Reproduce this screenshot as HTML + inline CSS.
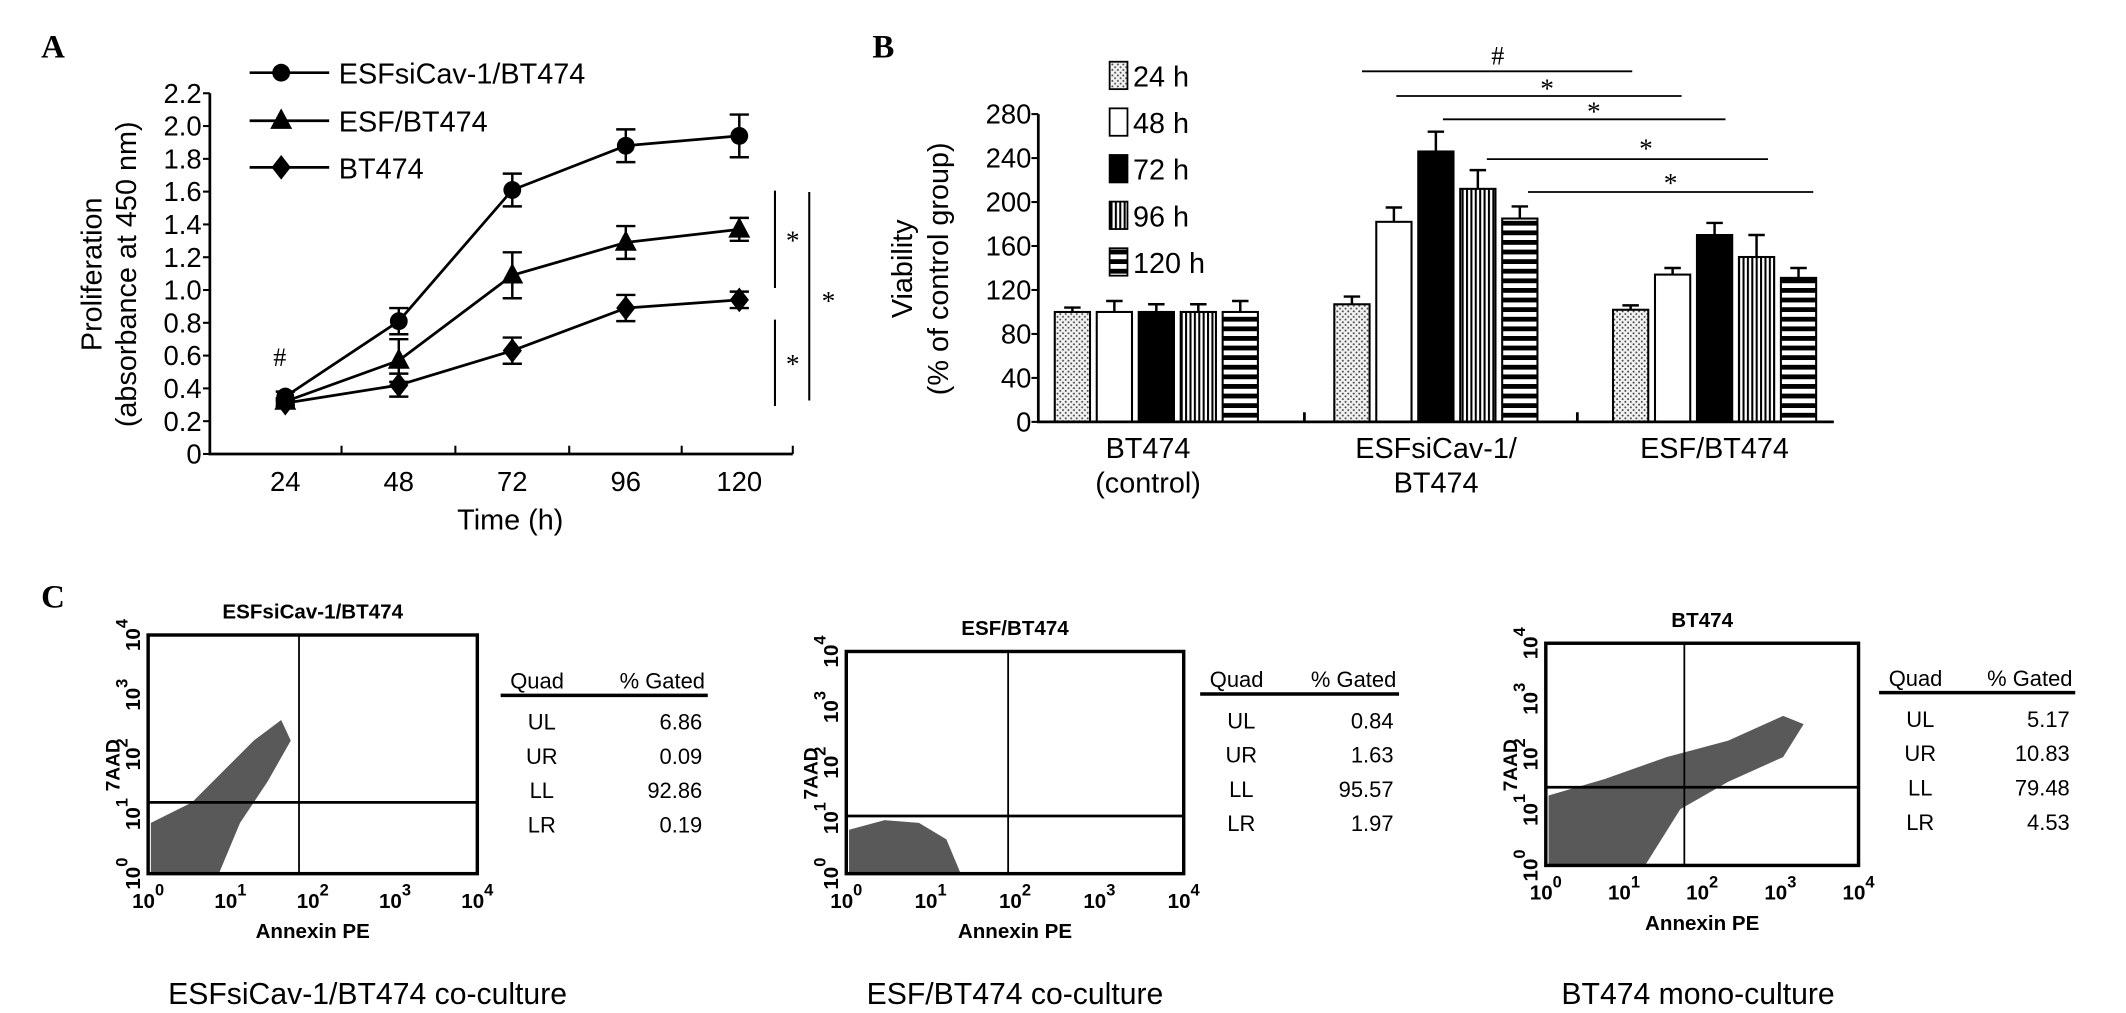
<!DOCTYPE html>
<html><head><meta charset="utf-8"><style>
html,body{margin:0;padding:0;background:#fff;}
svg{display:block;}
text{font-family:"Liberation Sans",sans-serif;fill:#000;}
.serif{font-family:"Liberation Serif",serif;}
</style></head><body>
<svg id="fig" width="2126" height="1013" viewBox="0 0 1550 738.6" preserveAspectRatio="none" xmlns="http://www.w3.org/2000/svg">
<g id="panelA"></g>
<g id="panelB"></g>
<g id="panelC"></g>
</svg>
<script>
// ---------- Panel A data ----------
const timesA = [24, 48, 72, 96, 120];
const yTicksA = [0, 0.2, 0.4, 0.6, 0.8, 1.0, 1.2, 1.4, 1.6, 1.8, 2.0, 2.2];
const yTickLabelsA = ["0","0.2","0.4","0.6","0.8","1.0","1.2","1.4","1.6","1.8","2.0","2.2"];
const seriesNamesA = ["ESFsiCav-1/BT474", "ESF/BT474", "BT474"];
const esfsiValues = [0.35, 0.81, 1.61, 1.88, 1.94];
const esfsiErrors = [0.03, 0.08, 0.10, 0.10, 0.13];
const esfValues = [0.32, 0.57, 1.09, 1.29, 1.37];
const esfErrors = [0.02, 0.13, 0.14, 0.10, 0.07];
const bt474Values = [0.31, 0.42, 0.63, 0.89, 0.94];
const bt474Errors = [0.02, 0.07, 0.08, 0.08, 0.05];

// ---------- Panel B data ----------
const groupsB = ["BT474 (control)", "ESFsiCav-1/BT474", "ESF/BT474"];
const hoursB = ["24 h", "48 h", "72 h", "96 h", "120 h"];
const yTicksB = [0, 40, 80, 120, 160, 200, 240, 280];
const controlValues = [100, 100, 100, 100, 100];
const controlErrors = [4, 10, 7, 7, 10];
const esfsiBarValues = [107, 182, 246, 212, 185];
const esfsiBarErrors = [7, 13, 18, 17, 11];
const esfBarValues = [102, 134, 170, 150, 131];
const esfBarErrors = [4, 6, 11, 20, 9];

const NS = "http://www.w3.org/2000/svg";
function mk(tag, attrs, parent, txt){
  const e = document.createElementNS(NS, tag);
  for (const k in attrs) e.setAttribute(k, attrs[k]);
  if (txt !== undefined) e.textContent = txt;
  parent.appendChild(e);
  return e;
}

// ================= PANEL A =================
(function(){
  const g = document.getElementById('panelA');
  const x0 = 153, yBase = 331, yTop = 68;
  const ya = v => yBase - (v / 2.2) * (yBase - yTop);
  const xa = t => 208 + (t - 24) / 24 * 82.75;
  let t;
  t = mk('text', {x:30, y:42, 'font-size':24, 'font-weight':'bold', class:'serif'}, g, 'A');
  
  
  // axes
  let ax = mk('path', {d:`M${x0},${yTop} L${x0},${yBase} L578,${yBase}`, stroke:'#000', 'stroke-width':2, fill:'none'}, g);
  
  
  yTicks(); 
  function yTicks(){
    yTicksA.forEach((v,i)=>{
      mk('line',{x1:x0-5,x2:x0,y1:ya(v),y2:ya(v),stroke:'#000','stroke-width':1.5},g);
      const tl = mk('text',{x:x0-6,y:ya(v)+7,'font-size':20,'text-anchor':'end'},g,yTickLabelsA[i]);
      
      
    });
  }
  [249,332,415,497,578].forEach(x=>mk('line',{x1:x,x2:x,y1:yBase,y2:yBase-6,stroke:'#000','stroke-width':1.5},g));
  timesA.forEach(tm=>{
    const tl = mk('text',{x:xa(tm),y:yBase+27,'font-size':20,'text-anchor':'middle'},g,String(tm));
    
    
  });
  t = mk('text',{x:372,y:386,'font-size':21,'text-anchor':'middle'},g,'Time (h)');
  
  
  const yl = mk('g',{transform:'translate(74,200) rotate(-90)'},g);
  
  
  mk('text',{x:0,y:0,'font-size':21,'text-anchor':'middle'},yl,'Proliferation');
  mk('text',{x:0,y:25,'font-size':21,'text-anchor':'middle'},yl,'(absorbance at 450 nm)');

  function marker(par, type, cx, cy){
    if (type===0) return mk('circle',{cx,cy,r:6.5,fill:'#000'},par);
    if (type===1) return mk('path',{d:`M${cx},${cy-9} L${cx+8},${cy+6} L${cx-8},${cy+6}Z`,fill:'#000'},par);
    return mk('path',{d:`M${cx},${cy-9} L${cx+7},${cy} L${cx},${cy+9} L${cx-7},${cy}Z`,fill:'#000'},par);
  }
  const sets = [[esfsiValues,esfsiErrors],[esfValues,esfErrors],[bt474Values,bt474Errors]];
  const sNames = ['series-esfsicav1','series-esf','series-bt474'];
  sets.forEach((s,si)=>{
    const sg = mk('g',{},g);
    
    
    const pts = s[0].map((v,i)=>`${xa(timesA[i])},${ya(v)}`).join(' ');
    mk('polyline',{points:pts,fill:'none',stroke:'#000','stroke-width':2},sg);
    s[0].forEach((v,i)=>{
      const x = xa(timesA[i]), e = s[1][i];
      mk('path',{d:`M${x},${ya(v+e)} L${x},${ya(v-e)} M${x-7},${ya(v+e)} L${x+7},${ya(v+e)} M${x-7},${ya(v-e)} L${x+7},${ya(v-e)}`,stroke:'#000','stroke-width':1.8,fill:'none'},sg);
      const m = marker(sg, si, x, ya(v));
      
      
    });
  });
  // legend
  [53,88,122].forEach((y,i)=>{
    const lg = mk('g',{},g);
    
    
    mk('line',{x1:182,x2:240,y1:y,y2:y,stroke:'#000','stroke-width':2},lg);
    marker(lg,i,205,y);
    mk('text',{x:247,y:y+8,'font-size':21},lg,seriesNamesA[i]);
  });
  // significance
  const sig = mk('g',{},g);
  
  
  mk('path',{d:'M565,139 L565,210 M565,233 L565,296 M590,140 L590,292',stroke:'#000','stroke-width':1.5},sig);
  mk('text',{x:578,y:182,'font-size':20,'text-anchor':'middle',class:'serif'},sig,'*');
  mk('text',{x:578,y:272,'font-size':20,'text-anchor':'middle',class:'serif'},sig,'*');
  mk('text',{x:604,y:226,'font-size':20,'text-anchor':'middle',class:'serif'},sig,'*');
  mk('text',{x:204,y:267,'font-size':19,'text-anchor':'middle',class:'serif'},sig,'#');
})();

// ================= PANEL B =================
(function(){
  const g = document.getElementById('panelB');
  const x0 = 757, yBase = 307.6, yTop = 83.2;
  const yb = v => yBase - (v/280)*(yBase-yTop);
  const groupLeft = [769, 972.8, 1176];
  const pitch = 30.6, bw = 25.7;
  const defs = mk('defs',{},g);
  const p1 = mk('pattern',{id:'dots',width:4,height:4,patternUnits:'userSpaceOnUse'},defs);
  mk('rect',{width:4,height:4,fill:'#f2f2f2'},p1);
  mk('circle',{cx:1,cy:1,r:0.7,fill:'#444'},p1);
  mk('circle',{cx:3,cy:3,r:0.7,fill:'#444'},p1);
  const p2 = mk('pattern',{id:'vstripes',width:3.2,height:4,patternUnits:'userSpaceOnUse'},defs);
  mk('rect',{width:3.2,height:4,fill:'#fff'},p2);
  mk('rect',{width:1.5,height:4,fill:'#000'},p2);
  const p3 = mk('pattern',{id:'hstripes',width:4,height:7,patternUnits:'userSpaceOnUse'},defs);
  mk('rect',{width:4,height:7,fill:'#fff'},p3);
  mk('rect',{width:4,height:3.5,fill:'#000'},p3);
  const fills = ['url(#dots)','#fff','#000','url(#vstripes)','url(#hstripes)'];
  let t = mk('text',{x:636,y:42,'font-size':24,'font-weight':'bold',class:'serif'},g,'B');
  
  
  const vals = [[controlValues,controlErrors],[esfsiBarValues,esfsiBarErrors],[esfBarValues,esfBarErrors]];
  vals.forEach((s,gi)=>{
    const gg = mk('g',{},g);
    
    
    s[0].forEach((v,i)=>{
      const x = groupLeft[gi] + i*pitch, e = s[1][i], cx = x + bw/2;
      mk('path',{d:`M${cx},${yb(v)} L${cx},${yb(v+e)} M${cx-6},${yb(v+e)} L${cx+6},${yb(v+e)}`,stroke:'#000','stroke-width':1.8},gg);
      const r = mk('rect',{x,y:yb(v),width:bw,height:yBase-yb(v),fill:fills[i],stroke:'#000','stroke-width':1.5},gg);
      
      
    });
  });
  mk('path',{d:`M${x0},${yTop} L${x0},${yBase} L1337,${yBase} M951,${yBase} L951,${yBase-7} M1150,${yBase} L1150,${yBase-7}`,stroke:'#000','stroke-width':2,fill:'none'},g);
  yTicksB.forEach(v=>{
    mk('line',{x1:x0-5,x2:x0,y1:yb(v),y2:yb(v),stroke:'#000','stroke-width':1.5},g);
    const tl = mk('text',{x:x0-5,y:yb(v)+7,'font-size':20,'text-anchor':'end'},g,String(v));
    
    
  });
  const yl = mk('g',{transform:'translate(665,196) rotate(-90)'},g);
  
  
  mk('text',{x:0,y:0,'font-size':21,'text-anchor':'middle'},yl,'Viability');
  mk('text',{x:0,y:26,'font-size':21,'text-anchor':'middle'},yl,'(% of control group)');
  const catLines = [["BT474","(control)"],["ESFsiCav-1/","BT474"],["ESF/BT474"]];
  const catX = [837, 1047, 1250];
  catLines.forEach((ls,i)=>{
    const cg = mk('g',{},g);
    
    
    ls.forEach((s,j)=>mk('text',{x:catX[i],y:334+j*25,'font-size':21,'text-anchor':'middle'},cg,s));
  });
  [55,89,123,157,191].forEach((y,i)=>{
    const lg = mk('g',{},g);
    
    
    mk('rect',{x:809,y:y-10,width:13,height:20,fill:fills[i],stroke:'#000','stroke-width':1.3},lg);
    mk('text',{x:826,y:y+8,'font-size':21},lg,hoursB[i]);
  });
  const sig = mk('g',{},g);
  
  
  [[993,1190,52],[1018,1226,70],[1052,1258,87],[1084,1289,116],[1114,1322,140]].forEach(l=>
    mk('line',{x1:l[0],x2:l[1],y1:l[2],y2:l[2],stroke:'#000','stroke-width':1.3},sig));
  mk('text',{x:1092,y:47,'font-size':19,'text-anchor':'middle',class:'serif'},sig,'#');
  [[1128,71],[1162,88],[1200,115],[1218,140]].forEach(p=>mk('text',{x:p[0],y:p[1],'font-size':20,'text-anchor':'middle',class:'serif'},sig,'*'));
})();

// ================= PANEL C =================
(function(){
  const g = document.getElementById('panelC');
  let t = mk('text',{x:30,y:443,'font-size':24,'font-weight':'bold',class:'serif'},g,'C');
  
  
  const plots = [
    {title:'ESFsiCav-1/BT474', box:[108,463,348,637], qx:218, qy:585, tab:[365,516,495], rows:[['UL','6.86'],['UR','0.09'],['LL','92.86'],['LR','0.19']], cap:'ESFsiCav-1/BT474 co-culture', capx:268,
     clouds:['M110,636 L110,600 L140,585 L165,560 L185,540 L205,525 L212,540 L195,570 L175,600 L160,636Z']},
    {title:'ESF/BT474', box:[617,475,863,637], qx:735, qy:595, tab:[875,1020,494], rows:[['UL','0.84'],['UR','1.63'],['LL','95.57'],['LR','1.97']], cap:'ESF/BT474 co-culture', capx:740,
     clouds:['M619,636 L619,605 L645,598 L670,600 L690,612 L700,636Z']},
    {title:'BT474', box:[1127,469,1355,631], qx:1228, qy:574, tab:[1370,1513,493], rows:[['UL','5.17'],['UR','10.83'],['LL','79.48'],['LR','4.53']], cap:'BT474 mono-culture', capx:1238,
     clouds:['M1129,630 L1129,580 L1170,568 L1215,552 L1260,540 L1300,522 L1315,528 L1300,552 L1260,570 L1225,590 L1200,630Z']}
  ];
  plots.forEach((p,pi)=>{
    const pg = mk('g',{},g);
    
    
    const [x1,y1,x2,y2] = p.box;
    mk('text',{x:(x1+x2)/2,y:y1-12,'font-size':15,'font-weight':'bold','text-anchor':'middle'},pg,p.title);
    p.clouds.forEach(d=>mk('path',{d,fill:'#222',opacity:0.75},pg));
    mk('rect',{x:x1,y:y1,width:x2-x1,height:y2-y1,fill:'none',stroke:'#000','stroke-width':2.5},pg);
    mk('line',{x1:p.qx,x2:p.qx,y1:y1,y2:y2,stroke:'#000','stroke-width':1.3},pg);
    mk('line',{x1:x1,x2:x2,y1:p.qy,y2:p.qy,stroke:'#000','stroke-width':2},pg);
    for (let k=0;k<5;k++){
      const xx = x1 + k*(x2-x1)/4;
      const tl = mk('text',{x:xx,y:y2+25,'font-size':15,'font-weight':'bold','text-anchor':'middle'},pg,'10');
      mk('tspan',{dy:-9,'font-size':12},tl,String(k));
      const yy = y2 - k*(y2-y1)/4;
      const yt = mk('text',{x:0,y:0,'font-size':15,'font-weight':'bold','text-anchor':'middle',transform:`translate(${x1-6},${yy}) rotate(-90)`},pg,'10');
      mk('tspan',{dy:-9,'font-size':12},yt,String(k));
    }
    mk('text',{x:0,y:0,'font-size':14,'font-weight':'bold','text-anchor':'middle',transform:`translate(${x1-21},${(y1+y2)/2+8}) rotate(-90)`},pg,'7AAD');
    mk('text',{x:(x1+x2)/2,y:y2+47,'font-size':15,'font-weight':'bold','text-anchor':'middle'},pg,'Annexin  PE');
    const [tx1,tx2,ty] = p.tab;
    const tg = mk('g',{},pg);
    
    
    mk('text',{x:tx1+7,y:ty+7,'font-size':16},tg,'Quad');
    mk('text',{x:tx2-2,y:ty+7,'font-size':16,'text-anchor':'end'},tg,'% Gated');
    mk('line',{x1:tx1,x2:tx2,y1:ty+12,y2:ty+12,stroke:'#000','stroke-width':2.5},tg);
    p.rows.forEach((r,ri)=>{
      const yy = ty + 37 + ri*25;
      mk('text',{x:tx1+30,y:yy,'font-size':16,'text-anchor':'middle'},tg,r[0]);
      mk('text',{x:tx2-4,y:yy,'font-size':16,'text-anchor':'end'},tg,r[1]);
    });
    const c = mk('text',{x:p.capx,y:732,'font-size':22,'text-anchor':'middle'},pg,p.cap);
    
    
  });
})();
</script>
</body></html>
